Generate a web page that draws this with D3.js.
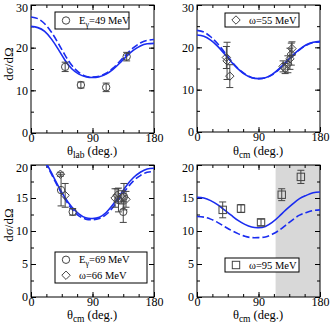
<!DOCTYPE html>
<html><head><meta charset="utf-8">
<script src="https://cdn.jsdelivr.net/npm/d3@7"></script>
<style>body{margin:0;background:#fff}svg{display:block}text{font-family:"Liberation Serif","Times New Roman",serif}</style>
</head><body><svg id="c" width="332" height="329"></svg>
<script>
// ---- data ----
const curveAngles = [0,10,20,30,40,50,60,70,80,90,100,110,120,130,140,150,160,170,180];
const tlSolid  = [25.0,24.7,23.8,22.0,19.6,17.0,15.0,13.8,13.2,13.0,13.2,13.8,14.9,16.4,18.0,19.4,20.4,20.9,21.0];
const tlDashed = [27.2,26.8,25.6,23.6,21.0,18.2,15.8,14.2,13.3,13.1,13.3,14.0,15.2,16.8,18.5,20.0,21.1,21.7,21.9];
const trSolid  = [22.9,22.6,21.7,20.3,18.5,16.6,14.9,13.6,12.8,12.6,12.8,13.6,14.9,16.5,18.1,19.5,20.6,21.2,21.4];
const trDashed = [24.0,23.6,22.5,20.9,18.9,16.8,15.0,13.7,12.9,12.6,12.8,13.5,14.8,16.4,18.0,19.4,20.5,21.1,21.3];
const blSolid  = [22.8,22.1,20.7,18.8,16.8,15.0,13.6,12.6,12.0,11.9,12.1,12.8,14.0,15.4,16.9,18.1,18.9,19.4,19.5];
const blDashed = [22.6,21.9,20.5,18.6,16.6,14.8,13.3,12.3,11.8,11.7,11.9,12.5,13.6,15.0,16.4,17.6,18.4,18.9,19.0];
const brSolid  = [15.1,15.0,14.6,14.0,13.2,12.4,11.6,11.0,10.6,10.5,10.7,11.3,12.2,13.2,14.1,14.9,15.4,15.8,15.9];
const brDashed = [12.2,12.1,11.8,11.3,10.7,10.1,9.6,9.2,9.0,9.0,9.1,9.5,10.1,10.9,11.7,12.4,12.8,13.1,13.2];

// measured points: [angle, value, error]
const e49 = [[50,15.5,1.1],[73,11.25,0.7],[110,10.7,1.0],[140,17.9,1.0]];
const w55 = [[43,17.6,2.6],[44,16.8,4.4],[48,13.2,2.7],[126,15.5,1.3],[129,15.0,1.2],[133,16.0,2.0],[136,17.3,2.5],[138,18.4,2.6],[139,19.7,1.6]];
const e69 = [[44,16.2,2.4],[61,12.9,0.5],[128,14.7,1.8],[135,12.9,1.6],[136,15.2,2.0]];
const w66 = [[43,18.6,0.3],[50,15.4,1.8],[123,15.0,1.4],[126,15.4,1.0],[133,15.1,1.0],[139,14.8,1.2]];
const w95 = [[37.6,13.2,1.2],[64.4,13.4,0.6],[93.7,11.3,0.5],[124,15.5,0.9],[152,18.2,1.0]];

const xMajor = [0,90,180];
const shadeRange = [115,180];

// ---- drawing ----
const svg = d3.select("#c");
const BLUE = "#1a2cf0", MK = "#444";

function panel(o){
  const x = d3.scaleLinear().domain([0,180]).range([o.x0,o.x1]);
  const y = d3.scaleLinear().domain([0,o.ymax]).range([o.y1,o.y0]);
  const g = svg.append("g");
  const clipId = "clip"+o.id;
  g.append("clipPath").attr("id",clipId).append("rect")
    .attr("x",o.x0).attr("y",o.y0).attr("width",o.x1-o.x0).attr("height",o.y1-o.y0);
  if(o.shade){
    g.append("rect").attr("x",x(o.shade[0])).attr("y",o.y0)
      .attr("width",x(o.shade[1])-x(o.shade[0])).attr("height",o.y1-o.y0).attr("fill","#d8d8d8");
  }
  const minorX = d3.range(0,180.1,22.5), minorY = d3.range(0,o.ymax+0.01,o.ymin);
  g.append("g").attr("transform",`translate(0,${o.y1})`).call(d3.axisBottom(x).tickValues(xMajor).tickSize(-5).tickPadding(0).tickFormat(d3.format("d")));
  g.append("g").attr("transform",`translate(0,${o.y0})`).call(d3.axisTop(x).tickValues(xMajor).tickSize(-5).tickFormat(""));
  g.append("g").attr("transform",`translate(0,${o.y1})`).call(d3.axisBottom(x).tickValues(minorX).tickSize(-3).tickFormat(""));
  g.append("g").attr("transform",`translate(0,${o.y0})`).call(d3.axisTop(x).tickValues(minorX).tickSize(-3).tickFormat(""));
  const yl = g.append("g").attr("transform",`translate(${o.x0},0)`).call(d3.axisLeft(y).tickValues(o.yMajor).tickSize(-5).tickPadding(3).tickFormat(d3.format("d")));
  yl.selectAll(".tick text").filter(d=>d===o.ymax).attr("dy","0.55em");
  g.append("g").attr("transform",`translate(${o.x1},0)`).call(d3.axisRight(y).tickValues(o.yMajor).tickSize(-5).tickFormat(""));
  g.append("g").attr("transform",`translate(${o.x0},0)`).call(d3.axisLeft(y).tickValues(minorY).tickSize(-3).tickFormat(""));
  g.append("g").attr("transform",`translate(${o.x1},0)`).call(d3.axisRight(y).tickValues(minorY).tickSize(-3).tickFormat(""));
  g.selectAll(".domain").remove();
  g.selectAll(".tick line").attr("stroke","#000");
  g.selectAll(".tick text").attr("font-size",12).attr("fill","#000")
    .style("font-family",'"Liberation Serif","Times New Roman",serif');
  g.append("rect").attr("x",o.x0).attr("y",o.y0).attr("width",o.x1-o.x0).attr("height",o.y1-o.y0)
    .attr("fill","none").attr("stroke","#000").attr("stroke-width",1);
  const line = d3.line().x((d,i)=>x(curveAngles[i])).y(d=>y(d)).curve(d3.curveNatural);
  const cg = g.append("g").attr("clip-path",`url(#${clipId})`);
  cg.append("path").attr("d",line(o.solid)).attr("fill","none").attr("stroke",BLUE).attr("stroke-width",1.6);
  cg.append("path").attr("d",line(o.dashed)).attr("fill","none").attr("stroke",BLUE).attr("stroke-width",1.6).attr("stroke-dasharray","7,3");
  o.sets.forEach(s=>{
    const dg = g.append("g").attr("clip-path",`url(#${clipId})`);
    s.data.forEach(d=>{
      const px=x(d[0]), py=y(d[1]), t=y(d[1]+d[2]), b=y(d[1]-d[2]);
      dg.append("line").attr("x1",px).attr("x2",px).attr("y1",t).attr("y2",b).attr("stroke",MK).attr("stroke-width",1);
      [t,b].forEach(v=>dg.append("line").attr("x1",px-3.5).attr("x2",px+3.5).attr("y1",v).attr("y2",v).attr("stroke",MK).attr("stroke-width",1));
      marker(dg,s.shape,px,py);
    });
  });
  return {x,y,g};
}
function marker(g,shape,px,py){
  if(shape==="circle") g.append("circle").attr("cx",px).attr("cy",py).attr("r",3.7).attr("fill","none").attr("stroke",MK).attr("stroke-width",1);
  else if(shape==="diamond") g.append("path").attr("d",`M${px},${py-4.2}L${px+4.2},${py}L${px},${py+4.2}L${px-4.2},${py}Z`).attr("fill","none").attr("stroke",MK).attr("stroke-width",1);
  else g.append("rect").attr("x",px-3.7).attr("y",py-3.7).attr("width",7.4).attr("height",7.4).attr("fill","none").attr("stroke",MK).attr("stroke-width",1);
}
function legend(box,items){
  svg.append("rect").attr("x",box[0]).attr("y",box[1]).attr("width",box[2]).attr("height",box[3])
    .attr("fill","#fff").attr("stroke","#000").attr("stroke-width",1);
  items.forEach((it,i)=>{
    const cy = box[1]+box[3]/(items.length)*(i+0.5);
    marker(svg,it.shape,box[0]+11,cy);
    const t = svg.append("text").attr("x",box[0]+24).attr("y",cy+3.5).attr("font-size",10.5);
    it.parts.forEach(p=>{
      const ts=t.append("tspan").text(p[0]);
      if(p[1]==="sub") ts.attr("font-size",8).attr("dy",3);
      else if(p[1]==="back") ts.attr("dy",-3);
    });
  });
}
function xlabel(cx,base,sub){
  const t = svg.append("text").attr("x",cx).attr("y",base).attr("font-size",12.5).attr("text-anchor","middle");
  t.append("tspan").text("θ");
  t.append("tspan").text(sub).attr("font-size",9.5).attr("dy",3);
  t.append("tspan").text(" (deg.)").attr("dy",-3);
}
function ylabel(cx,cy){
  svg.append("text").attr("transform",`translate(${cx},${cy}) rotate(-90)`).attr("text-anchor","middle")
    .attr("font-size",13).text("dσ/dΩ");
}

panel({id:1,x0:31,x1:154,y0:5,y1:133,ymax:30,yMajor:[0,10,20,30],ymin:5,solid:tlSolid,dashed:tlDashed,sets:[{shape:"circle",data:e49}]});
panel({id:2,x0:197,x1:320,y0:5,y1:132,ymax:30,yMajor:[0,10,20,30],ymin:5,solid:trSolid,dashed:trDashed,sets:[{shape:"diamond",data:w55}]});
panel({id:3,x0:31,x1:154,y0:165,y1:297,ymax:20,yMajor:[0,5,10,15,20],ymin:2.5,solid:blSolid,dashed:blDashed,sets:[{shape:"circle",data:e69},{shape:"diamond",data:w66}]});
panel({id:4,x0:197,x1:320,y0:165,y1:297,ymax:20,yMajor:[0,5,10,15,20],ymin:2.5,solid:brSolid,dashed:brDashed,shade:shadeRange,sets:[{shape:"square",data:w95}]});

legend([55,12,74,17],[{shape:"circle",parts:[["E"],["γ","sub"],["=49 MeV","back"]]}]);
legend([225,13,74,14],[{shape:"diamond",parts:[["ω=55 MeV"]]}]);
legend([55,252,92,31],[{shape:"circle",parts:[["E"],["γ","sub"],["=69 MeV","back"]]},{shape:"diamond",parts:[["ω=66 MeV"]]}]);
legend([225,258,74,14],[{shape:"square",parts:[["ω=95 MeV"]]}]);

xlabel(92,155,"lab");
xlabel(258,155,"cm");
xlabel(92,319,"cm");
xlabel(258,319,"cm");
ylabel(13,64);
ylabel(13,225);
</script></body></html>
